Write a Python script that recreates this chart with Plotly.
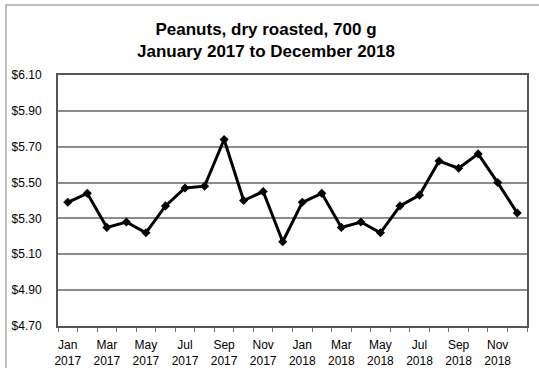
import plotly.graph_objects as go

# Monthly average retail price, Jan 2017 - Dec 2018
months = ["Jan", "Feb", "Mar", "Apr", "May", "Jun",
          "Jul", "Aug", "Sep", "Oct", "Nov", "Dec"]
years = ["2017", "2018"]
prices = [5.39, 5.44, 5.25, 5.28, 5.22, 5.37, 5.47, 5.48, 5.74, 5.40, 5.45, 5.17,
          5.39, 5.44, 5.25, 5.28, 5.22, 5.37, 5.43, 5.62, 5.58, 5.66, 5.50, 5.33]
y_ticks = [4.70, 4.90, 5.10, 5.30, 5.50, 5.70, 5.90, 6.10]

labels = [f"{m}<br>{y}" for y in years for m in months]
xs = list(range(len(prices)))

W, H = 539, 368
L, R, T, B = 58, 12, 75, 42
pw, ph = W - L - R, H - T - B

fig = go.Figure()
fig.add_trace(go.Scatter(
    x=xs, y=prices, mode="lines+markers",
    line=dict(color="black", width=3),
    marker=dict(symbol="diamond", size=7, color="black"),
    showlegend=False,
))

font = "Arial, Liberation Sans, sans-serif"

fig.update_layout(
    width=W, height=H,
    margin=dict(l=L, r=R, t=T, b=B),
    paper_bgcolor="white", plot_bgcolor="white",
    font=dict(family=font, size=12, color="black"),
    xaxis=dict(
        range=[-0.5, len(prices) - 0.5],
        tickmode="array",
        tickvals=xs[::2], ticktext=labels[::2],
        ticks="", showgrid=False, zeroline=False,
        ticklabelstandoff=7, automargin=False,
        showline=True, linecolor="#555555", linewidth=2, mirror=True,
        tickfont=dict(size=12),
        minor=dict(tickmode="array",
                   tickvals=[i - 0.5 for i in range(len(prices) + 1)],
                   ticks="outside", ticklen=4, tickcolor="#777777",
                   tickwidth=1, showgrid=False),
    ),
    yaxis=dict(
        range=[4.70, 6.10],
        tickmode="array", tickvals=y_ticks,
        ticktext=[f"${v:.2f}" for v in y_ticks],
        ticks="", ticklabelstandoff=12, automargin=False,
        showgrid=True, gridcolor="#8c8c8c", gridwidth=1.5,
        zeroline=False,
        showline=True, linecolor="#555555", linewidth=2, mirror=True,
        tickfont=dict(size=12),
    ),
    annotations=[dict(
        text="<b>Peanuts, dry roasted, 700 g</b><br><b>January 2017 to December 2018</b>",
        xref="paper", yref="paper",
        x=(266 - L) / pw, y=1 + (T - 18) / ph,
        xanchor="center", yanchor="top",
        showarrow=False, font=dict(size=17, family=font, color="black"),
        align="center",
    )],
    shapes=[dict(
        type="rect", xref="paper", yref="paper",
        x0=(6 - L) / pw, x1=(W + 10 - L) / pw,
        y0=-(H + 10 - (H - B)) / ph, y1=1 + (T - 5) / ph,
        line=dict(color="#bdbdbd", width=2), fillcolor="rgba(0,0,0,0)",
        layer="below",
    )],
)

fig.write_html("out.html")
